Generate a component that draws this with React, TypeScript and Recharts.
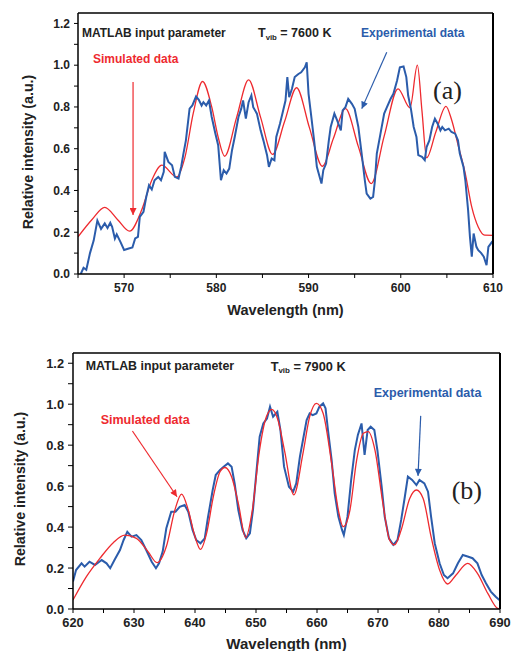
import React from 'react'
import { LineChart, Line, XAxis, YAxis, ReferenceLine, ReferenceDot } from 'recharts'

// panel (a): T_vib = 7600 K
const expAWl = [565.3, 565.6, 565.9, 566.3, 566.7, 567.1, 567.5, 567.9, 568.2, 568.5, 568.7, 569.0, 569.2, 569.6, 570.0, 570.5, 570.9, 571.2, 571.5, 571.7, 572.1, 572.4, 572.7, 573.0, 573.3, 573.7, 574.0, 574.3, 574.4, 574.8, 575.2, 575.5, 575.9, 576.2, 576.4, 576.7, 577.1, 577.4, 577.8, 578.1, 578.4, 578.6, 578.9, 579.2, 579.5, 579.9, 580.2, 580.5, 580.8, 581.1, 581.4, 581.7, 582.0, 582.4, 582.7, 582.9, 583.2, 583.5, 583.8, 584.0, 584.4, 584.8, 585.1, 585.5, 585.7, 586.0, 586.3, 586.5, 586.9, 587.2, 587.5, 587.7, 587.9, 588.2, 588.5, 588.9, 589.2, 589.6, 589.8, 590.0, 590.3, 590.6, 590.9, 591.1, 591.4, 591.6, 591.9, 592.2, 592.4, 592.8, 593.1, 593.5, 593.7, 594.0, 594.3, 594.7, 595.0, 595.4, 595.8, 596.1, 596.3, 596.7, 597.0, 597.2, 597.4, 597.8, 598.2, 598.5, 598.9, 599.2, 599.6, 599.9, 600.3, 600.6, 600.8, 601.1, 601.4, 601.7, 601.9, 602.3, 602.6, 602.8, 603.1, 603.4, 603.7, 604.0, 604.3, 604.5, 604.8, 605.2, 605.5, 605.9, 606.2, 606.4, 606.8, 607.0, 607.3, 607.5, 607.7, 607.9, 608.2, 608.4, 608.7, 609.0, 609.3, 609.5, 609.9, 610.0]
const expAVal = [0.0, 0.03, 0.02, 0.1, 0.16, 0.256, 0.216, 0.242, 0.22, 0.245, 0.226, 0.17, 0.19, 0.154, 0.115, 0.122, 0.127, 0.17, 0.178, 0.274, 0.298, 0.369, 0.425, 0.405, 0.449, 0.465, 0.449, 0.489, 0.585, 0.537, 0.521, 0.465, 0.457, 0.516, 0.568, 0.64, 0.792, 0.807, 0.85, 0.834, 0.807, 0.823, 0.807, 0.831, 0.752, 0.672, 0.617, 0.449, 0.497, 0.481, 0.505, 0.593, 0.657, 0.752, 0.792, 0.831, 0.744, 0.823, 0.855, 0.799, 0.768, 0.688, 0.64, 0.569, 0.513, 0.553, 0.545, 0.656, 0.72, 0.775, 0.831, 0.943, 0.847, 0.887, 0.943, 0.958, 0.966, 0.99, 1.014, 0.863, 0.752, 0.64, 0.513, 0.481, 0.433, 0.497, 0.529, 0.64, 0.704, 0.768, 0.736, 0.688, 0.784, 0.799, 0.839, 0.815, 0.791, 0.704, 0.561, 0.449, 0.385, 0.361, 0.369, 0.449, 0.577, 0.672, 0.768, 0.799, 0.839, 0.863, 0.927, 0.99, 0.994, 0.943, 0.855, 0.791, 0.704, 0.656, 0.569, 0.561, 0.545, 0.608, 0.64, 0.704, 0.744, 0.72, 0.688, 0.704, 0.688, 0.696, 0.68, 0.672, 0.64, 0.577, 0.513, 0.449, 0.306, 0.178, 0.083, 0.194, 0.13, 0.114, 0.101, 0.083, 0.042, 0.13, 0.154, 0.154]

const simAWl = [565.0, 566.5, 567.9, 569.3, 570.6, 571.9, 573.0, 574.1, 575.7, 576.6, 577.5, 578.5, 579.5, 580.2, 580.9, 582.2, 583.5, 584.8, 586.1, 587.4, 588.7, 590.1, 591.5, 592.7, 594.0, 595.4, 596.8, 598.2, 599.7, 601.0, 601.8, 602.3, 602.8, 603.8, 604.9, 605.5, 606.2, 607.0, 607.7, 608.4, 609.1, 610.0]
const simAVal = [0.178, 0.26, 0.319, 0.26, 0.205, 0.306, 0.449, 0.521, 0.465, 0.56, 0.77, 0.922, 0.8, 0.655, 0.564, 0.75, 0.93, 0.75, 0.573, 0.73, 0.892, 0.7, 0.516, 0.65, 0.792, 0.61, 0.433, 0.66, 0.887, 0.796, 1.0, 0.78, 0.556, 0.68, 0.803, 0.74, 0.62, 0.48, 0.32, 0.225, 0.186, 0.185]

// panel (b): T_vib = 7900 K
const expBWl = [620.0, 620.5, 621.4, 621.9, 622.7, 623.6, 624.7, 625.5, 626.1, 626.8, 627.7, 628.3, 628.9, 629.6, 630.4, 631.2, 632.0, 632.9, 633.6, 634.1, 634.7, 635.3, 636.1, 636.8, 637.5, 638.3, 638.9, 639.6, 640.2, 640.9, 641.6, 642.1, 642.9, 643.4, 644.1, 644.7, 645.4, 646.0, 646.5, 647.1, 647.8, 648.4, 649.0, 649.5, 650.1, 650.6, 651.2, 651.8, 652.3, 652.8, 653.5, 654.0, 654.6, 655.4, 656.1, 656.6, 657.2, 657.7, 658.3, 658.8, 659.3, 659.9, 660.4, 661.0, 661.4, 661.8, 662.4, 662.9, 663.5, 664.1, 664.4, 665.0, 665.6, 666.2, 666.7, 667.3, 667.8, 668.3, 668.8, 669.4, 669.9, 670.6, 671.1, 671.8, 672.5, 673.2, 673.8, 674.4, 674.9, 675.6, 676.3, 676.8, 677.6, 678.2, 678.7, 679.3, 680.1, 680.8, 681.4, 682.3, 683.1, 683.9, 684.7, 685.5, 686.3, 687.0, 687.7, 688.5, 689.3, 689.9]
const expBVal = [0.134, 0.19, 0.223, 0.207, 0.231, 0.215, 0.239, 0.223, 0.199, 0.239, 0.288, 0.337, 0.377, 0.353, 0.361, 0.337, 0.288, 0.231, 0.199, 0.223, 0.28, 0.394, 0.475, 0.475, 0.499, 0.508, 0.475, 0.386, 0.337, 0.321, 0.345, 0.443, 0.581, 0.654, 0.679, 0.695, 0.711, 0.695, 0.613, 0.483, 0.386, 0.345, 0.369, 0.483, 0.679, 0.841, 0.906, 0.93, 0.988, 0.939, 0.963, 0.874, 0.695, 0.597, 0.573, 0.613, 0.744, 0.825, 0.923, 0.955, 0.947, 0.955, 0.988, 1.004, 0.98, 0.874, 0.727, 0.565, 0.451, 0.386, 0.361, 0.451, 0.63, 0.776, 0.85, 0.906, 0.752, 0.874, 0.89, 0.874, 0.776, 0.597, 0.451, 0.345, 0.313, 0.337, 0.435, 0.548, 0.646, 0.63, 0.605, 0.63, 0.613, 0.573, 0.451, 0.321, 0.223, 0.166, 0.15, 0.174, 0.223, 0.264, 0.256, 0.248, 0.223, 0.166, 0.126, 0.085, 0.06, 0.044]

const simBWl = [620.0, 622.2, 624.4, 626.6, 628.5, 630.4, 632.3, 633.8, 635.3, 636.7, 637.8, 638.9, 640.0, 640.9, 641.9, 643.0, 644.1, 644.9, 646.0, 647.1, 648.3, 649.4, 650.5, 651.7, 652.6, 653.6, 654.7, 656.2, 657.7, 658.8, 659.9, 661.0, 662.4, 663.5, 664.3, 665.4, 666.5, 667.6, 668.4, 669.5, 670.8, 671.9, 672.7, 673.8, 675.2, 676.3, 677.4, 678.7, 680.1, 681.4, 682.8, 684.7, 686.3, 688.0, 689.6, 690.0]
const simBVal = [0.044, 0.158, 0.247, 0.324, 0.361, 0.345, 0.28, 0.226, 0.305, 0.483, 0.561, 0.483, 0.353, 0.291, 0.369, 0.548, 0.67, 0.691, 0.646, 0.516, 0.349, 0.483, 0.76, 0.939, 0.975, 0.923, 0.77, 0.557, 0.76, 0.939, 1.004, 0.956, 0.711, 0.483, 0.402, 0.483, 0.727, 0.858, 0.866, 0.776, 0.516, 0.337, 0.313, 0.386, 0.54, 0.581, 0.54, 0.353, 0.19, 0.122, 0.166, 0.223, 0.174, 0.076, 0.003, 0.0]

const yTicks = [0, 0.1, 0.2, 0.3, 0.4, 0.5, 0.6, 0.7, 0.8, 0.9, 1.0, 1.1, 1.2]
const xTicksA = [565, 570, 575, 580, 585, 590, 595, 600, 605, 610]
const xTicksB = [620, 625, 630, 635, 640, 645, 650, 655, 660, 665, 670, 675, 680, 685, 690]

const BLUE = '#2b5cab'
const RED = '#ee2a2f'
const FONT = '"Liberation Sans", Arial, sans-serif'

const toRows = (wl: number[], val: number[]) => wl.map((w, i) => ({ wl: w, v: val[i] }))
const fmtY = (v: number) => (Math.round(v * 10) % 2 === 0 ? v.toFixed(1) : '')
const fmtX = (v: number) => (v % 10 === 0 ? String(v) : '')
const blank = () => ''

// text placed at a data position
const note = (content: React.ReactNode, color: string, size: number, serif = false) => (p: any) => (
  <text
    x={p.cx}
    y={p.cy}
    dominantBaseline="central"
    fill={color}
    fontSize={size}
    fontWeight={serif ? 'normal' : 'bold'}
    fontFamily={serif ? '"Liberation Serif", "Times New Roman", serif' : FONT}
  >
    {content}
  </text>
)

const tvib = (k: string, size: number) => (
  <>
    <tspan>T</tspan>
    <tspan dy={4} fontSize={size * 0.62}>vib</tspan>
    <tspan dy={-4}>{` = ${k} K`}</tspan>
  </>
)

const xTitle = (cy: number, size: number) => (p: any) => {
  const vb = p.viewBox
  return (
    <text x={vb.x + vb.width / 2} y={cy} textAnchor="middle" dominantBaseline="central"
      fontFamily={FONT} fontWeight="bold" fontSize={size} fill="#222">
      Wavelength (nm)
    </text>
  )
}

const yTitle = (cx: number, cy: number, size: number) => () => (
  <text x={cx} y={cy} transform={`rotate(-90 ${cx} ${cy})`} textAnchor="middle" dominantBaseline="central"
    fontFamily={FONT} fontWeight="bold" fontSize={size} fill="#222">
    Relative intensity (a.u.)
  </text>
)

const arrowDefs = (id: string, color: string) => (
  <marker id={id} viewBox="0 0 10 10" refX="10" refY="5" markerWidth="8" markerHeight="7"
    markerUnits="userSpaceOnUse" orient="auto">
    <path d="M0,0 L10,5 L0,10 z" fill={color} />
  </marker>
)

function PanelA() {
  const tick = { fontSize: 12, fontWeight: 'bold', fill: '#222', fontFamily: FONT }
  return (
    <LineChart width={514} height={330} margin={{ top: 13, right: 21, left: 10, bottom: 26 }}>
      <defs>
        {arrowDefs('arrRedA', RED)}
        {arrowDefs('arrBlueA', BLUE)}
      </defs>
      <XAxis type="number" dataKey="wl" domain={[565, 610]} ticks={xTicksA} tickFormatter={fmtX}
        allowDataOverflow height={30} tickSize={4} tickMargin={5} tick={tick}
        stroke="#000" strokeWidth={1.5} tickLine={{ stroke: '#000', strokeWidth: 1 }}
        label={{ content: xTitle(310, 14.5) }} />
      <XAxis xAxisId="top" orientation="top" mirror type="number" domain={[565, 610]} ticks={xTicksA}
        tickFormatter={blank} tickSize={4} stroke="#000" strokeWidth={1.5} tickLine={{ stroke: '#000', strokeWidth: 1 }} />
      <YAxis type="number" domain={[0, 1.25]} ticks={yTicks} tickFormatter={fmtY} allowDataOverflow
        width={68} tickSize={4} tickMargin={4} tick={tick} stroke="#000" strokeWidth={1.5}
        tickLine={{ stroke: '#000', strokeWidth: 1 }} label={{ content: yTitle(28, 152, 14.2) }} />
      <YAxis yAxisId="right" orientation="right" mirror type="number" domain={[0, 1.25]} ticks={yTicks}
        tickFormatter={blank} tickSize={4} stroke="#000" strokeWidth={2} tickLine={{ stroke: '#000', strokeWidth: 1 }} />
      <Line data={toRows(simAWl, simAVal)} dataKey="v" type="monotone" stroke={RED} strokeWidth={1.3}
        dot={false} isAnimationActive={false} />
      <Line data={toRows(expAWl, expAVal)} dataKey="v" type="linear" stroke={BLUE} strokeWidth={2}
        dot={false} isAnimationActive={false} />
      <ReferenceLine segment={[{ x: 570.97, y: 0.919 }, { x: 570.97, y: 0.282 }]} stroke={RED}
        strokeWidth={1.2} markerEnd="url(#arrRedA)" />
      <ReferenceLine segment={[{ x: 598.48, y: 1.062 }, { x: 595.77, y: 0.792 }]} stroke={BLUE}
        strokeWidth={1.2} markerEnd="url(#arrBlueA)" />
      <ReferenceDot x={565.43} y={1.156} r={1} shape={note('MATLAB input parameter', '#222', 12)} />
      <ReferenceDot x={584.52} y={1.156} r={1} shape={note(tvib('7600', 12.5), '#222', 12.5)} />
      <ReferenceDot x={595.69} y={1.156} r={1} shape={note('Experimental data', BLUE, 12)} />
      <ReferenceDot x={566.63} y={1.032} r={1} shape={note('Simulated data', RED, 12)} />
      <ReferenceDot x={603.5} y={0.879} r={1} shape={note('(a)', '#222', 26, true)} />
    </LineChart>
  )
}

function PanelB() {
  const tick = { fontSize: 12.8, fontWeight: 'bold', fill: '#222', fontFamily: FONT }
  return (
    <LineChart width={514} height={321} margin={{ top: 23, right: 14, left: 10, bottom: 12 }}>
      <defs>
        {arrowDefs('arrRedB', RED)}
        {arrowDefs('arrBlueB', BLUE)}
      </defs>
      <XAxis type="number" dataKey="wl" domain={[620, 690]} ticks={xTicksB} tickFormatter={fmtX}
        allowDataOverflow height={30} tickSize={4} tickMargin={4.5} tick={tick}
        stroke="#000" strokeWidth={1.5} tickLine={{ stroke: '#000', strokeWidth: 1 }}
        label={{ content: xTitle(313, 15) }} />
      <XAxis xAxisId="top" orientation="top" mirror type="number" domain={[620, 690]} ticks={xTicksB}
        tickFormatter={blank} tickSize={4} stroke="#000" strokeWidth={1.5} tickLine={{ stroke: '#000', strokeWidth: 1 }} />
      <YAxis type="number" domain={[0, 1.25]} ticks={yTicks} tickFormatter={fmtY} allowDataOverflow
        width={63} tickSize={5} tickMargin={4} tick={tick} stroke="#000" strokeWidth={1.5}
        tickLine={{ stroke: '#000', strokeWidth: 1 }} label={{ content: yTitle(20, 159, 14.2) }} />
      <YAxis yAxisId="right" orientation="right" mirror type="number" domain={[0, 1.25]} ticks={yTicks}
        tickFormatter={blank} tickSize={4} stroke="#000" strokeWidth={2} tickLine={{ stroke: '#000', strokeWidth: 1 }} />
      <Line data={toRows(expBWl, expBVal)} dataKey="v" type="linear" stroke={BLUE} strokeWidth={2}
        dot={false} isAnimationActive={false} />
      <Line data={toRows(simBWl, simBVal)} dataKey="v" type="monotone" stroke={RED} strokeWidth={1.3}
        dot={false} isAnimationActive={false} />
      <ReferenceLine segment={[{ x: 629.74, y: 0.869 }, { x: 637.05, y: 0.548 }]} stroke={RED}
        strokeWidth={1.2} markerEnd="url(#arrRedB)" />
      <ReferenceLine segment={[{ x: 677.0, y: 0.943 }, { x: 676.56, y: 0.65 }]} stroke={BLUE}
        strokeWidth={1.2} markerEnd="url(#arrBlueB)" />
      <ReferenceDot x={622.08} y={1.187} r={1} shape={note('MATLAB input parameter', '#222', 12.4)} />
      <ReferenceDot x={652.4} y={1.187} r={1} shape={note(tvib('7900', 12.8), '#222', 12.8)} />
      <ReferenceDot x={669.3} y={1.055} r={1} shape={note('Experimental data', BLUE, 12.5)} />
      <ReferenceDot x={624.54} y={0.923} r={1} shape={note('Simulated data', RED, 12.5)} />
      <ReferenceDot x={682.08} y={0.581} r={1} shape={note('(b)', '#222', 26, true)} />
    </LineChart>
  )
}

export default function App() {
  return (
    <div style={{ position: 'absolute', left: 0, top: 0, width: 514, height: 651, background: '#fff' }}>
      <div style={{ position: 'absolute', left: 0, top: 0 }}>
        <PanelA />
      </div>
      <div style={{ position: 'absolute', left: 0, top: 330 }}>
        <PanelB />
      </div>
    </div>
  )
}
